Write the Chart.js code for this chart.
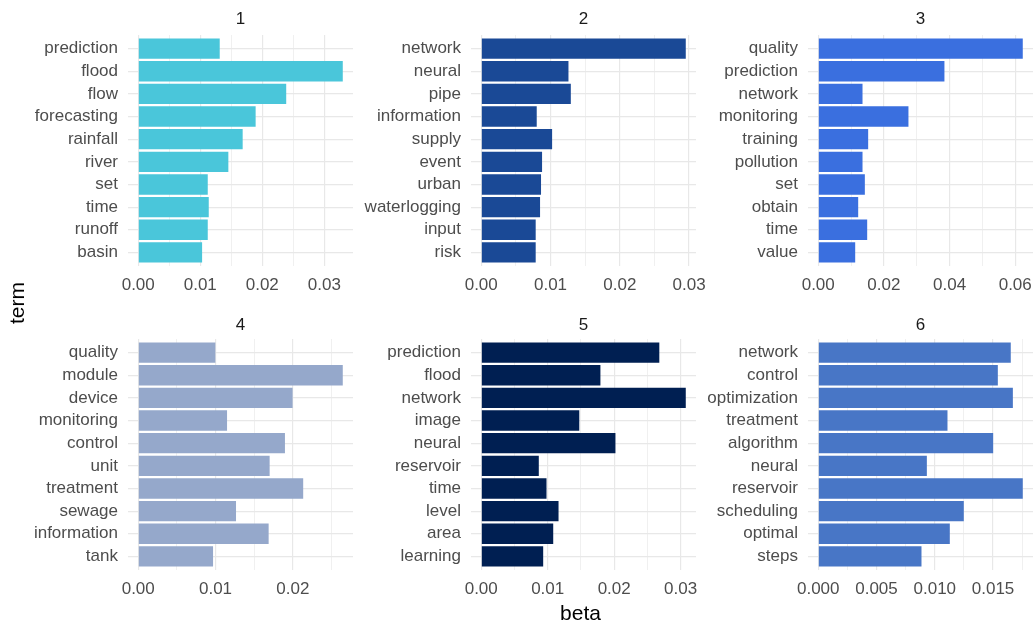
<!DOCTYPE html>
<html>
<head>
<meta charset="utf-8">
<title>Topic term probabilities</title>
<script src="https://cdn.jsdelivr.net/npm/chart.js@4.4.1/dist/chart.umd.min.js"></script>
<style>
  html, body { margin: 0; padding: 0; background: #ffffff; width: 1034px; height: 625px; overflow: hidden; }
  body { position: relative; font-family: "Liberation Sans", Arial, sans-serif; }
  canvas.panel { position: absolute; }
  .strip { position: absolute; width: 225px; height: 20px; line-height: 20px; text-align: center;
           font-size: 17px; color: #1a1a1a; }
  .axis-title { position: absolute; font-size: 21px; color: #000000; text-align: center; white-space: nowrap; }
</style>
</head>
<body>
<script>
// Topic labels (facet strips)
const topicIds = ['1', '2', '3', '4', '5', '6'];

// Top terms per topic, listed top to bottom
const terms1 = ['prediction', 'flood', 'flow', 'forecasting', 'rainfall', 'river', 'set', 'time', 'runoff', 'basin'];
const terms2 = ['network', 'neural', 'pipe', 'information', 'supply', 'event', 'urban', 'waterlogging', 'input', 'risk'];
const terms3 = ['quality', 'prediction', 'network', 'monitoring', 'training', 'pollution', 'set', 'obtain', 'time', 'value'];
const terms4 = ['quality', 'module', 'device', 'monitoring', 'control', 'unit', 'treatment', 'sewage', 'information', 'tank'];
const terms5 = ['prediction', 'flood', 'network', 'image', 'neural', 'reservoir', 'time', 'level', 'area', 'learning'];
const terms6 = ['network', 'control', 'optimization', 'treatment', 'algorithm', 'neural', 'reservoir', 'scheduling', 'optimal', 'steps'];

// Per-term beta (topic-word probability), same order as the term lists
const beta1 = [0.01314, 0.03298, 0.02386, 0.01893, 0.01684, 0.01453, 0.01121, 0.01137, 0.01121, 0.01030];
const beta2 = [0.02952, 0.01259, 0.01293, 0.00801, 0.01023, 0.00878, 0.00863, 0.00849, 0.00786, 0.00786];
const beta3 = [0.06230, 0.03844, 0.01349, 0.02748, 0.01521, 0.01349, 0.01420, 0.01217, 0.01491, 0.01126];
const beta4 = [0.00998, 0.02646, 0.01997, 0.01149, 0.01898, 0.01700, 0.02134, 0.01265, 0.01687, 0.00968];
const beta5 = [0.02679, 0.01793, 0.03077, 0.01475, 0.02019, 0.00866, 0.00982, 0.01163, 0.01083, 0.00932];
const beta6 = [0.01652, 0.01541, 0.01670, 0.01109, 0.01501, 0.00932, 0.01755, 0.01249, 0.01129, 0.00886];

// Major tick spacing and label decimals of each panel's beta axis
const majorSteps = [0.01, 0.01, 0.02, 0.01, 0.01, 0.005];
const tickDigits = [2, 2, 2, 2, 2, 3];

// Fill colour of each topic
const topicColors = ['#4AC6DA', '#1A4996', '#3A6FDF', '#95A8CB', '#001F52', '#4876C6'];

// ---- layout of the 3 x 2 facet grid ----
const PLOT_LEFT = [128, 471, 808];
const PLOT_TOP = [35, 339];
const PLOT_W = 225;
const PLOT_H = 231;
const AXIS_W = 120;   // room for term labels
const AXIS_H = 40;    // room for beta labels
const PAD = 12;

const FONT = '"Liberation Sans", Arial, sans-serif';
const TEXT_COL = '#4D4D4D';
const GRID_MAJOR = '#E8E8E8';
const GRID_MINOR = '#EEEEEE';

Chart.defaults.font.family = FONT;

const allTerms = [terms1, terms2, terms3, terms4, terms5, terms6];
const allBeta = [beta1, beta2, beta3, beta4, beta5, beta6];

function zeroPadding(scale) {
  scale.paddingTop = 0; scale.paddingBottom = 0;
  scale.paddingLeft = 0; scale.paddingRight = 0;
}

function isMajor(v, step) {
  const r = v / step;
  return Math.abs(r - Math.round(r)) < 1e-6;
}

function addText(cls, text, styles) {
  const d = document.createElement('div');
  d.className = cls;
  d.textContent = text;
  Object.assign(d.style, styles);
  document.body.appendChild(d);
  return d;
}

topicIds.forEach((id, k) => {
  const col = k % 3, row = Math.floor(k / 3);
  const terms = allTerms[k];
  const values = allBeta[k];
  const step = majorSteps[k];
  const digits = tickDigits[k];
  const top = Math.max(...values);

  const cv = document.createElement('canvas');
  cv.className = 'panel';
  cv.width = AXIS_W + PLOT_W + PAD;
  cv.height = PAD + PLOT_H + AXIS_H;
  cv.style.left = (PLOT_LEFT[col] - AXIS_W) + 'px';
  cv.style.top = (PLOT_TOP[row] - PAD) + 'px';
  document.body.appendChild(cv);

  new Chart(cv, {
    type: 'bar',
    data: {
      datasets: [{
        data: values.map((v, i) => ({ x: v, y: i })),
        backgroundColor: topicColors[k],
        borderWidth: 0,
        barPercentage: 0.9,
        categoryPercentage: 1.0
      }]
    },
    options: {
      indexAxis: 'y',
      responsive: false,
      animation: false,
      devicePixelRatio: 1,
      layout: { padding: { top: PAD, right: PAD, left: 0, bottom: 0 } },
      plugins: { legend: { display: false }, tooltip: { enabled: false }, title: { display: false } },
      scales: {
        x: {
          type: 'linear',
          min: -0.05 * top,
          max: 1.05 * top,
          afterFit: s => { s.height = AXIS_H; zeroPadding(s); },
          border: { display: false },
          grid: {
            drawTicks: false,
            color: ctx => (ctx.tick && isMajor(ctx.tick.value, step)) ? GRID_MAJOR : GRID_MINOR,
            lineWidth: ctx => (ctx.tick && isMajor(ctx.tick.value, step)) ? 1.2 : 0.9
          },
          ticks: {
            stepSize: step / 2,
            includeBounds: false,
            autoSkip: false,
            maxRotation: 0,
            minRotation: 0,
            padding: 9,
            color: TEXT_COL,
            font: { family: FONT, size: 17 },
            callback: v => isMajor(v, step) ? Number(v).toFixed(digits) : ''
          }
        },
        y: {
          type: 'linear',
          reverse: true,
          offset: false,
          min: -0.6,
          max: terms.length - 1 + 0.6,
          afterFit: s => { s.width = AXIS_W; zeroPadding(s); },
          border: { display: false },
          grid: { drawTicks: false, offset: false, color: GRID_MAJOR, lineWidth: 1.2 },
          ticks: {
            stepSize: 1,
            includeBounds: false,
            autoSkip: false,
            padding: 10,
            color: TEXT_COL,
            font: { family: FONT, size: 17 },
            callback: v => terms[Math.round(v)] ?? ''
          }
        }
      }
    }
  });

  // facet strip label above the panel
  addText('strip', id, {
    left: PLOT_LEFT[col] + 'px',
    top: (row === 0 ? 9 : 315) + 'px'
  });
});

// shared axis titles
addText('axis-title', 'beta', {
  left: (PLOT_LEFT[0] + (PLOT_LEFT[2] + PLOT_W - PLOT_LEFT[0]) / 2 - 40) + 'px',
  width: '80px', top: '601px', height: '24px', lineHeight: '24px'
});
addText('axis-title', 'term', {
  left: (17 - 30) + 'px', top: (303 - 12) + 'px',
  width: '60px', height: '24px', lineHeight: '24px',
  transform: 'rotate(-90deg)'
});
</script>
</body>
</html>
